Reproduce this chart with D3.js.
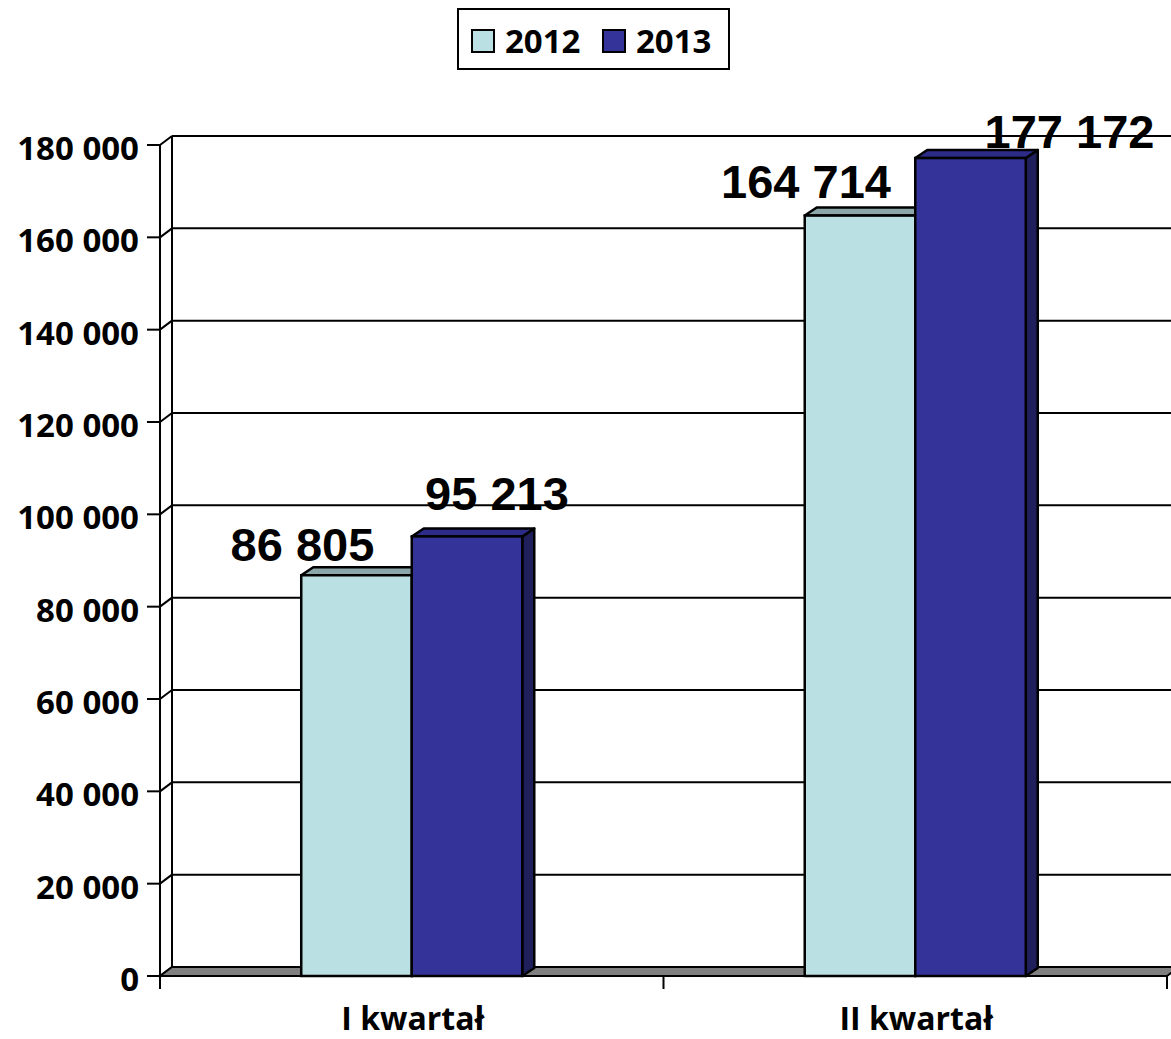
<!DOCTYPE html>
<html>
<head>
<meta charset="utf-8">
<script src="https://cdn.jsdelivr.net/npm/d3@7/dist/d3.min.js"></script>
<style>
  html, body { margin: 0; padding: 0; background: #fff; }
  svg { display: block; }
</style>
</head>
<body>
<svg id="chart" width="1171" height="1039"></svg>
<script>
// ---- data ----
const categories = ["I kwartał", "II kwartał"];
const seriesNames = ["2012", "2013"];
const values2012 = [86805, 164714];
const values2013 = [95213, 177172];
const yTicks = [0, 20000, 40000, 60000, 80000, 100000, 120000, 140000, 160000, 180000];

// ---- layout / style ----
const svg = d3.select("#chart");
const x0 = 160, x1r = 1167, yBottom = 976, yTop = 145;
const wallDx = 12, wallDy = -9;
const barDx = 12, barDy = -8;
const colors = {
  "2012": { front: "#BBE0E3", top: "#8CA7AA", side: "#7E9A9C" },
  "2013": { front: "#333399", top: "#2C2C88", side: "#1F1F5C" }
};
const labelFont = "'Open Sans', 'DejaVu Sans', sans-serif";
const valueFont = "'Liberation Sans', Arial, sans-serif";
// label offsets (dx from bar centre, dy from bar top) per series/category
const labelOffsets = {
  "2012": [[-54, -14], [-54, -18]],
  "2013": [[30, -26], [99, -10]]
};

const y = d3.scaleLinear().domain([0, 180000]).range([yBottom, yTop]);
const xBand = d3.scaleBand().domain(categories).range([x0, x1r]).paddingInner(0).paddingOuter(0);
const xSub = d3.scaleBand().domain(seriesNames).range([0, xBand.bandwidth()]).paddingInner(0).paddingOuter(1.278);

const rows = categories.map((c, i) => ({ cat: c, vals: [
  { s: "2012", v: values2012[i], i },
  { s: "2013", v: values2013[i], i }
]}));

// ---- back wall gridlines ----
const g = svg.append("g");
g.selectAll("line.grid").data(yTicks.filter(t => t > 0)).enter().append("line")
  .attr("x1", x0 + wallDx).attr("x2", 1171 + 20)
  .attr("y1", d => y(d) + wallDy).attr("y2", d => y(d) + wallDy)
  .attr("stroke", "#000").attr("stroke-width", 2);
// side wall diagonals
g.selectAll("line.diag").data(yTicks).enter().append("line")
  .attr("x1", x0).attr("x2", x0 + wallDx)
  .attr("y1", d => y(d)).attr("y2", d => y(d) + wallDy)
  .attr("stroke", "#000").attr("stroke-width", 2);
// back wall left edge
g.append("line").attr("x1", x0 + wallDx).attr("x2", x0 + wallDx)
  .attr("y1", y(180000) + wallDy).attr("y2", y(0) + wallDy)
  .attr("stroke", "#000").attr("stroke-width", 2);

// floor
g.append("polygon")
  .attr("points", [[x0, y(0)], [x1r, y(0)], [x1r + wallDx, y(0) + wallDy], [x0 + wallDx, y(0) + wallDy]].map(p => p.join(",")).join(" "))
  .attr("fill", "#808080").attr("stroke", "#000").attr("stroke-width", 2).attr("stroke-linejoin", "round");

// front axis
const axisG = svg.append("g");
axisG.append("line").attr("x1", x0).attr("x2", x0).attr("y1", y(180000)).attr("y2", y(0) + 13)
  .attr("stroke", "#000").attr("stroke-width", 2);
axisG.append("line").attr("x1", x0).attr("x2", x1r).attr("y1", y(0)).attr("y2", y(0))
  .attr("stroke", "#000").attr("stroke-width", 2);
axisG.selectAll("line.yt").data(yTicks).enter().append("line")
  .attr("x1", x0 - 13).attr("x2", x0).attr("y1", d => y(d)).attr("y2", d => y(d))
  .attr("stroke", "#000").attr("stroke-width", 2);
const fmt = d => d3.format(",")(d).replace(/,/g, " ");
axisG.selectAll("text.yl").data(yTicks).enter().append("text")
  .attr("x", 139).attr("y", d => y(d) + 15)
  .attr("text-anchor", "end")
  .attr("font-family", labelFont).attr("font-weight", 700).attr("font-size", 33)
  .text(fmt);
// category ticks
const catTicks = [x0].concat(categories.map(c => xBand(c) + xBand.bandwidth()));
axisG.selectAll("line.xt").data(catTicks).enter().append("line")
  .attr("x1", d => d).attr("x2", d => d).attr("y1", y(0)).attr("y2", y(0) + 13)
  .attr("stroke", "#000").attr("stroke-width", 2);
axisG.selectAll("text.xl").data(categories).enter().append("text")
  .attr("x", d => xBand(d) + xBand.bandwidth() / 2 + 1).attr("y", 1030)
  .attr("text-anchor", "middle")
  .attr("font-family", labelFont).attr("font-weight", 700).attr("font-size", 32)
  .text(d => d);

// ---- bars ----
const barsG = svg.append("g");
rows.forEach(r => {
  r.vals.forEach(d => {
    const xl = xBand(r.cat) + xSub(d.s);
    const w = xSub.bandwidth();
    const yt = y(d.v), yb = y(0);
    const c = colors[d.s];
    const bg = barsG.append("g");
    bg.append("polygon")
      .attr("points", [[xl + w, yb], [xl + w + barDx, yb + barDy], [xl + w + barDx, yt + barDy], [xl + w, yt]].map(p => p.join(",")).join(" "))
      .attr("fill", c.side).attr("stroke", "#000").attr("stroke-width", 2.5).attr("stroke-linejoin", "round");
    bg.append("polygon")
      .attr("points", [[xl, yt], [xl + barDx, yt + barDy], [xl + w + barDx, yt + barDy], [xl + w, yt]].map(p => p.join(",")).join(" "))
      .attr("fill", c.top).attr("stroke", "#000").attr("stroke-width", 2.5).attr("stroke-linejoin", "round");
    bg.append("rect")
      .attr("x", xl).attr("y", yt).attr("width", w).attr("height", yb - yt)
      .attr("fill", c.front).attr("stroke", "#000").attr("stroke-width", 2.5);
  });
});

// ---- value labels ----
rows.forEach(r => {
  r.vals.forEach(d => {
    const off = labelOffsets[d.s][d.i];
    const cx = xBand(r.cat) + xSub(d.s) + xSub.bandwidth() / 2;
    svg.append("text")
      .attr("x", cx + off[0]).attr("y", y(d.v) + off[1])
      .attr("text-anchor", "middle")
      .attr("font-family", valueFont).attr("font-weight", 700).attr("font-size", 47)
      .text(fmt(d.v));
  });
});

// ---- legend ----
const lg = svg.append("g");
lg.append("rect").attr("x", 458).attr("y", 9).attr("width", 271).attr("height", 60)
  .attr("fill", "#fff").attr("stroke", "#000").attr("stroke-width", 2);
const legendX = [472, 603];
seriesNames.forEach((s, i) => {
  lg.append("rect").attr("x", legendX[i]).attr("y", 30).attr("width", 22).attr("height", 22)
    .attr("fill", colors[s].front).attr("stroke", "#000").attr("stroke-width", 2);
  lg.append("text").attr("x", legendX[i] + 33).attr("y", 53)
    .attr("font-family", labelFont).attr("font-weight", 700).attr("font-size", 33)
    .text(s);
});
</script>
</body>
</html>
